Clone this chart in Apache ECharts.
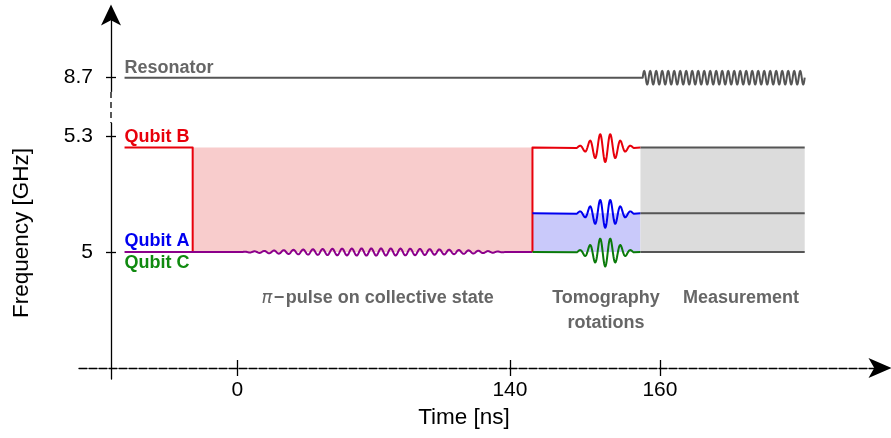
<!DOCTYPE html>
<html>
<head>
<meta charset="utf-8">
<script src="https://cdn.jsdelivr.net/npm/echarts@6/dist/echarts.min.js"></script>
<style>html,body{margin:0;padding:0;background:#fff}#c{width:891px;height:438px}</style>
</head>
<body>
<div id="c"></div>
<script>
// ================= DATA =================
const TIME_TICKS = [0, 140, 160];            // ns
const FREQ_TICKS = [5, 5.3, 8.7];            // GHz

const F_RES = 8.7;      // resonator
const F_B = 5.27;       // qubit B
const F_A = 5.1;        // qubit A (tomography)
const F_C = 5.0;        // qubit C / collective

const T_LEFT = -58;           // start of drawn levels
const T_B_DETUNE = -23;       // qubit B brought to 5 GHz
const PI_PULSE = [0, 140];    // pi-pulse on collective state
const T_TOMO = 143;           // start of tomography
const TOMO_PULSE = [148.9, 156.5];
const T_MEAS = 157.4;         // start of measurement
const READOUT = [157.7, 179.3];
const T_RIGHT = 179.3;

const LEVEL_LABELS = ['Resonator', 'Qubit B', 'Qubit A', 'Qubit C'];
const LEVEL_LABEL_FREQ = [F_RES, F_B, F_C, F_C];

const PHASE_LABELS = ['{pi|π}\u200a−\u200apulse on collective state', 'Tomography\nrotations', 'Measurement'];
const PHASE_LABEL_T = [72, 152.8, 170.8];

// shaded regions [t0, t1, f0, f1]
const FILL_PINK = [T_B_DETUNE, T_TOMO, F_C, F_B];
const FILL_BLUE = [T_TOMO, T_MEAS, F_C, F_A];
const FILL_GRAY = [T_MEAS, T_RIGHT, F_C, F_B];

// level traces (role decides colour)
const TRACES = [
  { role: 'res',    pts: [[T_LEFT, F_RES], [T_RIGHT, F_RES]], pulse: READOUT, kind: 'readout' },
  { role: 'B',      pts: [[T_LEFT, F_B], [T_B_DETUNE, F_B], [T_B_DETUNE, F_C]] },
  { role: 'AC',     pts: [[T_LEFT, F_C], [T_TOMO, F_C]], pulse: PI_PULSE, kind: 'pi' },
  { role: 'B',      pts: [[T_TOMO, F_C], [T_TOMO, F_B], [T_MEAS, F_B]], pulse: TOMO_PULSE, kind: 'tomo' },
  { role: 'A',      pts: [[T_TOMO, F_A], [T_MEAS, F_A]], pulse: TOMO_PULSE, kind: 'tomo' },
  { role: 'C',      pts: [[T_TOMO, F_C], [T_MEAS, F_C]], pulse: TOMO_PULSE, kind: 'tomo' },
  { role: 'meas',   pts: [[T_MEAS, F_B], [T_RIGHT, F_B]] },
  { role: 'meas',   pts: [[T_MEAS, F_A], [T_RIGHT, F_A]] },
  { role: 'meas',   pts: [[T_MEAS, F_C], [T_RIGHT, F_C]] }
];

// ================= SCALES (schematic, piecewise) =================
const X_STRETCH = 3.853;     // time after 140 ns is drawn stretched
const Y_SQUEEZE = 0.04435;   // frequency above 5.3 GHz is drawn compressed
function warpT(t) { return t <= 140 ? t : 140 + (t - 140) * X_STRETCH; }
function warpF(f) { return f <= 5.3 ? f : 5.3 + (f - 5.3) * Y_SQUEEZE; }
const U_MIN = -81.4, U_MAX = 330.1;
const V_MIN = 4.6716, V_MAX = 5.6129;

// ================= STYLES =================
const FONT = "'Liberation Sans', Arial, Helvetica, sans-serif";
const COLORS = { res: '#555555', B: '#e8000b', AC: '#8b008b', A: '#0000f0', C: '#0a7a0a', meas: '#555555' };
const LABEL_COLORS = ['#666666', '#e8000b', '#0000f0', '#108a10'];
const LABEL_DY = [-10, -10.5, -10.5, 11.5];
const Y_AXIS_OFFSET = 32;
const PULSE_STYLES = {
  readout: { amp: 6.8, cycles: 27, env: s => 1, wave: s => -Math.sin(2 * Math.PI * 27 * s) },
  pi: { amp: 3.6, cycles: 28, env: s => Math.sin(Math.PI * s), wave: s => Math.sin(2 * Math.PI * 28 * s) },
  tomo: { amp: 14.5, cycles: 5.6, env: s => Math.exp(-0.5 * Math.pow((s - 0.5) / 0.22, 2)), wave: s => Math.cos(2 * Math.PI * 5.6 * (s - 0.5)) }
};

function nearestLabel(ticks, warp) {
  return function (v) {
    let best = 0;
    ticks.forEach((t, i) => { if (Math.abs(warp(t) - v) < Math.abs(warp(ticks[best]) - v)) best = i; });
    return String(ticks[best]);
  };
}

function tracePoints(api, tr) {
  const px = tr.pts.map(([t, f]) => api.coord([warpT(t), warpF(f)]));
  if (!tr.pulse) return px;
  const st = PULSE_STYLES[tr.kind];
  const p0 = api.coord([warpT(tr.pulse[0]), V_MIN])[0];
  const p1 = api.coord([warpT(tr.pulse[1]), V_MIN])[0];
  const out = [];
  for (let i = 0; i < px.length; i++) {
    out.push(px[i]);
    if (i < px.length - 1) {
      const a = px[i], b = px[i + 1];
      if (Math.abs(a[1] - b[1]) < 0.5 && p0 >= Math.min(a[0], b[0]) - 0.5 && p1 <= Math.max(a[0], b[0]) + 0.5) {
        const n = Math.ceil(st.cycles * 24);
        for (let k = 0; k <= n; k++) {
          const s = k / n;
          out.push([p0 + (p1 - p0) * s, a[1] + st.amp * st.env(s) * st.wave(s)]);
        }
      }
    }
  }
  return out;
}

const fills = [FILL_PINK, FILL_BLUE, FILL_GRAY];
const fillColors = ['#f8cccc', '#c9c9fa', '#dcdcdc'];

const chart = echarts.init(document.getElementById('c'), null, { renderer: 'canvas' });

const axisLabelStyle = { fontFamily: FONT, fontSize: 21, color: '#000' };

chart.setOption({
  animation: false,
  backgroundColor: '#fff',
  textStyle: { fontFamily: FONT },
  grid: { left: 79, right: 11, top: 15, bottom: 59, containLabel: false },
  xAxis: [
    {
      type: 'value', min: U_MIN, max: U_MAX, position: 'bottom', offset: -11,
      splitLine: { show: false },
      axisLine: { show: true, onZero: false, symbol: ['none', 'arrow'], symbolSize: [15, 23], symbolOffset: [0, 11.5],
        lineStyle: { color: '#000', width: 1.3, type: [8, 2] } },
      axisTick: { show: true, inside: false, length: 8, customValues: TIME_TICKS.map(warpT),
        lineStyle: { color: '#000', width: 1.3 } },
      axisLabel: Object.assign({ show: true, margin: 12, customValues: TIME_TICKS.map(warpT),
        formatter: nearestLabel(TIME_TICKS, warpT) }, axisLabelStyle),
      name: 'Time [ns]', nameLocation: 'middle', nameGap: 38,
      nameTextStyle: { fontFamily: FONT, fontSize: 22.5, color: '#000', padding: [0, 31, 0, 0] }
    },
    {
      type: 'value', min: U_MIN, max: U_MAX, position: 'bottom', offset: -11,
      splitLine: { show: false },
      axisLine: { show: false },
      axisTick: { show: true, inside: true, length: 8, customValues: TIME_TICKS.map(warpT),
        lineStyle: { color: '#000', width: 1.3 } },
      axisLabel: { show: false }
    }
  ],
  yAxis: [
    {
      type: 'value', min: V_MIN, max: V_MAX, position: 'left', offset: -Y_AXIS_OFFSET,
      splitLine: { show: false },
      axisLine: { show: true, onZero: false, symbol: ['none', 'arrow'], symbolSize: [15, 21], symbolOffset: [0, 10.5],
        lineStyle: { color: '#000', width: 1.3 } },
      axisTick: { show: true, inside: false, length: 5, customValues: FREQ_TICKS.map(warpF),
        lineStyle: { color: '#000', width: 1.3 } },
      axisLabel: Object.assign({ show: true, margin: 18, customValues: FREQ_TICKS.map(warpF),
        formatter: nearestLabel(FREQ_TICKS, warpF) }, axisLabelStyle),
      name: 'Frequency [GHz]', nameLocation: 'middle', nameGap: 78,
      nameTextStyle: { fontFamily: FONT, fontSize: 22.5, color: '#000', padding: [0, 72, 0, 0] }
    },
    {
      type: 'value', min: V_MIN, max: V_MAX, position: 'left', offset: -Y_AXIS_OFFSET,
      splitLine: { show: false },
      axisLine: { show: false, onZero: false },
      axisTick: { show: true, inside: true, length: 5, customValues: FREQ_TICKS.map(warpF),
        lineStyle: { color: '#000', width: 1.3 } },
      axisLabel: { show: false }
    }
  ],
  series: [
    {
      type: 'custom', name: 'fills', z: 1, silent: true,
      data: fills.map(r => [warpT(r[0]), warpF(r[2])]),
      renderItem: function (params, api) {
        const r = fills[params.dataIndex];
        const a = api.coord([warpT(r[0]), warpF(r[3])]);
        const b = api.coord([warpT(r[1]), warpF(r[2])]);
        return { type: 'rect', shape: { x: a[0], y: a[1], width: b[0] - a[0], height: b[1] - a[1] },
          style: { fill: fillColors[params.dataIndex] } };
      }
    },
    {
      type: 'custom', name: 'levels', z: 3, silent: true,
      data: TRACES.map(tr => [warpT(tr.pts[0][0]), warpF(tr.pts[0][1])]),
      renderItem: function (params, api) {
        const tr = TRACES[params.dataIndex];
        return { type: 'polyline', shape: { points: tracePoints(api, tr) },
          style: { stroke: COLORS[tr.role], lineWidth: 2, fill: null, lineJoin: 'round', lineCap: 'butt' } };
      }
    },
    {
      type: 'custom', name: 'level labels', z: 4, silent: true,
      data: LEVEL_LABELS.map((n, i) => [warpT(T_LEFT), warpF(LEVEL_LABEL_FREQ[i])]),
      renderItem: function (params, api) {
        const i = params.dataIndex;
        const p = api.coord([warpT(T_LEFT), warpF(LEVEL_LABEL_FREQ[i])]);
        return { type: 'text', x: p[0], y: p[1] + LABEL_DY[i],
          style: { text: LEVEL_LABELS[i], fill: LABEL_COLORS[i], font: 'bold 18px ' + FONT,
            align: 'left', verticalAlign: 'middle' } };
      }
    },
    {
      type: 'custom', name: 'phase labels', z: 4, silent: true,
      data: PHASE_LABELS.map((n, i) => [warpT(PHASE_LABEL_T[i]), warpF(F_C)]),
      renderItem: function (params, api) {
        const i = params.dataIndex;
        const p = api.coord([warpT(PHASE_LABEL_T[i]), warpF(F_C)]);
        return { type: 'text', x: p[0], y: p[1] + 34,
          style: { text: PHASE_LABELS[i], fill: '#666666', font: 'bold 18px ' + FONT,
            align: 'center', verticalAlign: 'top', lineHeight: 25,
            rich: { pi: { fontStyle: 'italic', fontWeight: 'normal', fontFamily: "'DejaVu Sans', sans-serif", fontSize: 18, fill: '#666666' } } } };
      }
    },
    {
      type: 'custom', name: 'axis break', z: 6, silent: true,
      data: [[U_MIN, warpF(6.06)]],
      renderItem: function (params, api) {
        const lo = api.coord([U_MIN, warpF(6.06)]);
        const hi = api.coord([U_MIN, warpF(7.87)]);
        const x = lo[0] + Y_AXIS_OFFSET;
        return { type: 'group', children: [
          { type: 'line', shape: { x1: x, y1: lo[1], x2: x, y2: hi[1] }, style: { stroke: '#fff', lineWidth: 4 } },
          { type: 'line', shape: { x1: x, y1: hi[1], x2: x, y2: lo[1] }, style: { stroke: '#000', lineWidth: 1.3, lineDash: [6, 4] } }
        ] };
      }
    }
  ]
});
</script>
</body>
</html>
